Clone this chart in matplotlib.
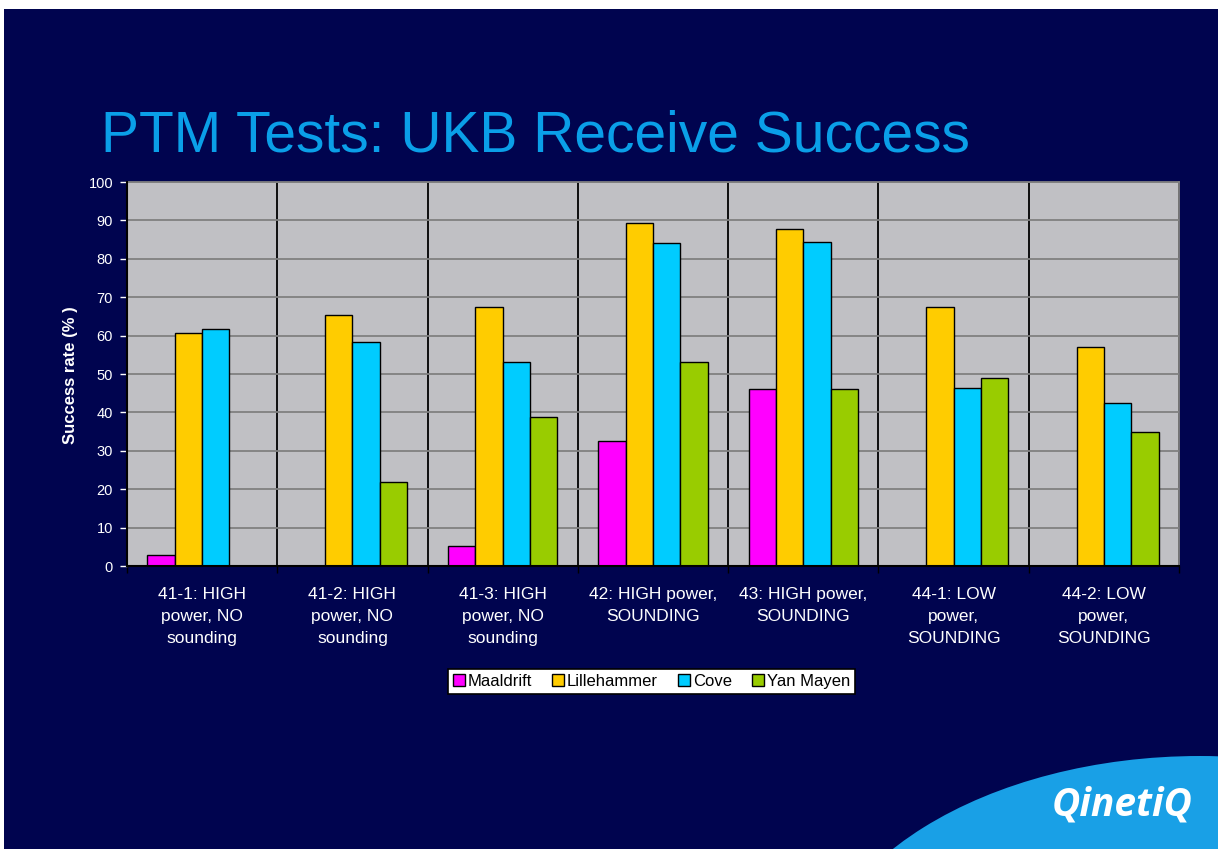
import matplotlib
matplotlib.use("Agg")
import matplotlib.pyplot as plt
import matplotlib.patches as mpatches
from matplotlib.lines import Line2D
import numpy as np

plt.rcParams['font.family'] = ['Liberation Sans', 'DejaVu Sans']

categories = ["41-1: HIGH\npower, NO\nsounding",
              "41-2: HIGH\npower, NO\nsounding",
              "41-3: HIGH\npower, NO\nsounding",
              "42: HIGH power,\nSOUNDING",
              "43: HIGH power,\nSOUNDING",
              "44-1: LOW\npower,\nSOUNDING",
              "44-2: LOW\npower,\nSOUNDING"]
series_names = ["Maaldrift", "Lillehammer", "Cove", "Yan Mayen"]
maaldrift = [2.9, 0, 5.2, 32.6, 46.1, 0, 0]
lillehammer = [60.8, 65.3, 67.4, 89.4, 87.7, 67.4, 57.0]
cove = [61.6, 58.3, 53.0, 84.0, 84.5, 46.4, 42.4]
yan_mayen = [0, 22.0, 38.7, 53.0, 46.1, 48.9, 35.0]
yticks = [0, 10, 20, 30, 40, 50, 60, 70, 80, 90, 100]

colors = ["#FF00FF", "#FFCC00", "#00CCFF", "#99CC00"]
navy = "#00044f"

W, H = 1218, 849
fig = plt.figure(figsize=(W / 100, H / 100), dpi=100, facecolor="white")

# navy slide background
fig.patches.append(mpatches.Rectangle((4 / W, 0), 1 - 4 / W, 840 / H,
                                      transform=fig.transFigure,
                                      facecolor=navy, edgecolor="none", zorder=-10))

# swoosh (logo area)
fig.patches.append(mpatches.Ellipse((1200 / W, 1 - 1000 / H), 2 * 391 / W, 2 * 244 / H,
                                    transform=fig.transFigure,
                                    facecolor="#19a0e6", edgecolor="none", zorder=-9))
fig.text(1052 / W, 1 - 815 / H, "QinetiQ", color="white", fontsize=28,
         fontweight="bold", fontstyle="italic", family=["Open Sans", "DejaVu Sans"],
         ha="left", va="baseline")

# title
fig.text(101 / W, 1 - 152 / H, "PTM Tests: UKB Receive Success", color="#0a9fe8",
         fontsize=41, ha="left", va="baseline")

ax = fig.add_axes([127 / W, 1 - 566 / H, (1179 - 127) / W, (566 - 182) / H])
ax.set_facecolor("#c0c0c4")

series = [maaldrift, lillehammer, cove, yan_mayen]
n = len(series)
bw = 1 / (n + 1.5)
x = np.arange(len(categories))
for i, (vals, col, name) in enumerate(zip(series, colors, series_names)):
    ax.bar(x + (i - (n - 1) / 2) * bw, vals, width=bw, color=col,
           edgecolor="black", linewidth=1.0, label=name, zorder=3)

ax.set_xlim(-0.5, len(categories) - 0.5)
ax.set_ylim(0, 100)
ax.set_yticks(yticks)
ax.set_yticklabels([str(t) for t in yticks])
ax.tick_params(axis="y", colors="white", labelsize=10.5, length=5, width=1, pad=5,
               direction="out")
ax.yaxis.grid(True, color="#808080", linewidth=1.3, zorder=1)

# category boundaries as major ticks + black gridlines, labels as minor ticks
ax.set_xticks(np.arange(-0.5, len(categories), 1.0))
ax.set_xticklabels([])
ax.set_xticks(x, minor=True)
ax.set_xticklabels(categories, minor=True)
ax.tick_params(axis="x", which="major", length=5, width=1, color="black",
               direction="out")
ax.tick_params(axis="x", which="minor", length=0, pad=15, labelsize=12.5,
               labelcolor="white")
for lab in ax.get_xticklabels(minor=True):
    lab.set_linespacing(1.6)
ax.xaxis.grid(True, which="major", color="black", linewidth=1.3, zorder=2)
ax.set_axisbelow(True)

for s in ["top", "right"]:
    ax.spines[s].set_color("#808080")
    ax.spines[s].set_linewidth(1.3)
for s in ["left", "bottom"]:
    ax.spines[s].set_color("black")
    ax.spines[s].set_linewidth(1.5)
    ax.spines[s].set_zorder(4)

fig.text(70 / W, 1 - 375 / H, "Success rate (% )", rotation=90, color="white",
         fontsize=12, fontweight="bold", ha="center", va="center")

handles = [Line2D([0], [0], marker="s", linestyle="none", markersize=9,
                  markerfacecolor=c, markeredgecolor="black", markeredgewidth=1.0)
           for c in colors]
leg = fig.legend(handles, series_names, loc="center",
                 bbox_to_anchor=(651.5 / W, 1 - 681.5 / H), ncol=4,
                 fontsize=12, frameon=True, fancybox=False, framealpha=1,
                 edgecolor="black", facecolor="white", handlelength=0.7,
                 handletextpad=0.2, columnspacing=1.2, borderpad=0.3,
                 borderaxespad=0)
leg.get_frame().set_linewidth(1.2)

fig.savefig("out.png", dpi=100, facecolor="white")
